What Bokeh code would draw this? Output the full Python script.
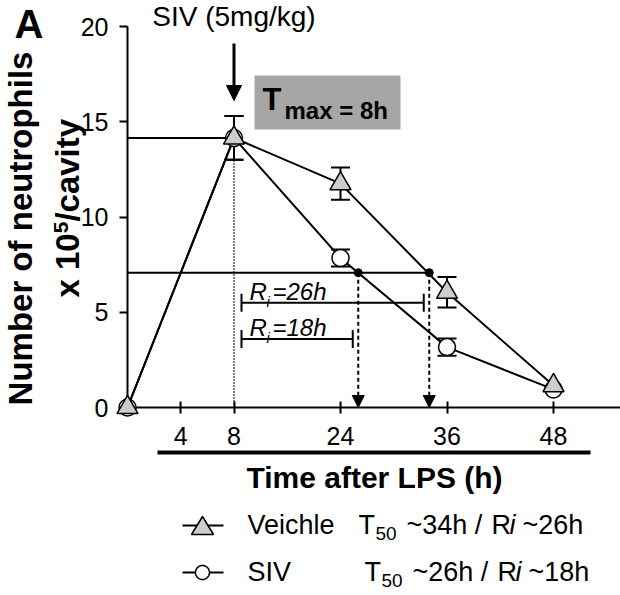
import numpy as np
from bokeh.plotting import figure
from bokeh.models import (Range1d, FixedTicker, LinearAxis, Whisker, TeeHead,
                          Arrow, NormalHead, ColumnDataSource)
from bokeh.core.properties import value
from bokeh.embed import file_html
from bokeh.resources import INLINE

# ---------------- data ----------------
hours = [0, 8, 24, 36, 48]
vehicle_mean = [0.0, 14.15, 11.75, 6.05, 1.15]
vehicle_err = [0.0, 1.15, 0.85, 0.80, 0.0]
siv_mean = [0.0, 14.15, 7.85, 3.17, 0.95]
siv_err = [0.0, 1.15, 0.45, 0.45, 0.0]

x_tick_hours = [4, 8, 24, 36, 48]
y_ticks = [0, 5, 10, 15, 20]
axis_knot_hours = [0, 4, 8, 24, 36, 48]      # broken (non-linear) time axis
axis_knot_pos = [0, 1, 2, 4, 6, 8]

t_max = 8
t50_hours = [26, 34]          # SIV, Vehicle
ri_labels = ["=18h", "=26h"]  # SIV, Vehicle
ri_levels = [3.6, 5.5]

legend_names = ["Veichle", "SIV"]
legend_t50 = ["~34h /", "~26h /"]
legend_ri = ["~26h", "~18h"]

# ---------------- layout ----------------
W, H = 620, 595
LEFT, BOTTOM = 127, 188
FW, FH = W - LEFT, H - BOTTOM
PX_X = 53.25
PX_Y = 19.05
X_END = FW / PX_X
Y_END = FH / PX_Y
FONT = value("Liberation Sans")
MID = 0.3465   # (ascent - descent) / 2 of Liberation Sans, in em


def pos(t):
    return np.interp(t, axis_knot_hours, axis_knot_pos)


def ux(px):   # page x -> data x
    return (px - LEFT) / PX_X


def vy(py):   # page y -> data y
    return (FH - py) / PX_Y


p = figure(width=W, height=H, output_backend="svg", toolbar_location=None,
           x_range=Range1d(0, X_END), y_range=Range1d(0, Y_END),
           x_axis_type=None, y_axis_type=None, title=None,
           min_border_left=LEFT, min_border_right=0, min_border_top=0,
           min_border_bottom=BOTTOM)
p.outline_line_color = None
p.background_fill_color = "white"

yaxis = LinearAxis(ticker=FixedTicker(ticks=y_ticks), bounds=(0, 20),
                   axis_line_width=2, major_tick_line_width=2,
                   major_tick_out=8, major_tick_in=0,
                   minor_tick_out=0, minor_tick_in=0,
                   major_label_text_font="Liberation Sans",
                   major_label_text_font_size="25px",
                   major_label_text_color="black",
                   major_label_standoff=11)
p.add_layout(yaxis, "left")

xt = [float(pos(h)) for h in x_tick_hours]
xaxis = LinearAxis(ticker=FixedTicker(ticks=xt), bounds=(0, X_END),
                   major_label_overrides={k: str(h) for k, h in zip(xt, x_tick_hours)},
                   axis_line_width=2, major_tick_line_width=2,
                   major_tick_out=6, major_tick_in=6,
                   minor_tick_out=0, minor_tick_in=0,
                   major_label_text_font="Liberation Sans",
                   major_label_text_font_size="25px",
                   major_label_text_color="black",
                   major_label_standoff=13)
p.add_layout(xaxis, "below")

vx = pos(hours)
peak = vehicle_mean[hours.index(t_max)]
half = peak / 2.0

# guide lines
p.segment(x0=[0, 0], y0=[peak, half], x1=[pos(t_max), pos(max(t50_hours))],
          y1=[peak, half], line_color="black", line_width=2)
p.segment(x0=[pos(t_max)], y0=[0], x1=[pos(t_max)], y1=[peak],
          line_color="black", line_width=2, line_dash="1 2")

# data lines
p.line(vx, siv_mean, line_color="black", line_width=2)
p.line(vx, vehicle_mean, line_color="black", line_width=2)


def whiskers(mean, err):
    idx = [i for i, e in enumerate(err) if e > 0]
    src = ColumnDataSource(dict(x=[vx[i] for i in idx],
                                lo=[mean[i] - err[i] for i in idx],
                                hi=[mean[i] + err[i] for i in idx]))
    w = Whisker(source=src, base="x", lower="lo", upper="hi", dimension="height",
                line_width=2, line_color="black",
                lower_head=TeeHead(size=19, line_width=2, line_color="black"),
                upper_head=TeeHead(size=19, line_width=2, line_color="black"))
    p.add_layout(w)


whiskers(siv_mean, siv_err)
whiskers(vehicle_mean, vehicle_err)

# T50 dashed arrows and dots
t50x = [float(pos(t)) for t in t50_hours]
arr_src = ColumnDataSource(dict(x0=t50x, y0=[half] * 2, x1=t50x, y1=[0, 0]))
p.add_layout(Arrow(source=arr_src, x_start="x0", y_start="y0", x_end="x1", y_end="y1",
                   line_width=2, line_dash="4 3", line_color="black",
                   end=NormalHead(size=12, fill_color="black", line_color="black",
                                  line_width=1)))
p.scatter(t50x, [half] * 2, marker="circle", size=8, fill_color="black",
          line_color="black", level="overlay")

# Ri bars
ri_start = [float(pos(t_max)) + 7.5 / PX_X] * 2
ri_end = [x - 5.5 / PX_X for x in t50x]
ri_src = ColumnDataSource(dict(y=ri_levels, x0=ri_start, x1=ri_end))
p.add_layout(Whisker(source=ri_src, base="y", lower="x0", upper="x1", dimension="width",
                     line_width=2, line_color="black",
                     lower_head=TeeHead(size=18, line_width=2, line_color="black"),
                     upper_head=TeeHead(size=18, line_width=2, line_color="black")))


def txt(x, y, s, size, style="normal", align="left", rotated=False, xo=0.0, yo=0.0):
    """Text whose alphabetic baseline sits at (x, y) (+ pixel offsets)."""
    if rotated:
        xo = xo - MID * size
        angle = np.pi / 2
    else:
        yo = yo - MID * size
        angle = 0.0
    p.text(x=[x], y=[y], text=[s], text_font=FONT, text_font_size=f"{size}px",
           text_font_style=style, text_align=align, text_baseline="middle",
           angle=angle, x_offset=xo, y_offset=yo, text_color="black", level="overlay")


for y, lab, x0 in zip(ri_levels, ri_labels, ri_start):
    txt(x0, y, "R", 24, "italic", xo=8, yo=-3)
    txt(x0, y, "i", 15, "italic", xo=25, yo=4)
    txt(x0, y, lab, 24, "italic", xo=31, yo=-3)

# markers (overlay so they are not clipped at the axis)
p.scatter(vx, siv_mean, marker="circle", size=17, fill_color="white",
          line_color="black", line_width=1.5, level="overlay")
p.scatter(vx, vehicle_mean, marker="triangle", size=21, fill_color="#cccccc",
          line_color="black", line_width=1.5, level="overlay")

# top arrow and labels
p.add_layout(Arrow(x_start=float(pos(t_max)), y_start=vy(43), x_end=float(pos(t_max)),
                   y_end=vy(100), line_width=3, line_color="black",
                   end=NormalHead(size=15, fill_color="black", line_color="black",
                                  line_width=1)))
txt(float(pos(t_max)), vy(26), "SIV (5mg/kg)", 28, align="center")

p.quad(left=[ux(254)], right=[ux(400)], top=[vy(75)], bottom=[vy(129)],
       fill_color="#a6a6a6", line_color=None, level="overlay")
txt(ux(262), vy(110), "T", 31, "bold")
txt(ux(284), vy(118), "max = 8h", 24, "bold")

txt(ux(14), vy(37), "A", 40, "bold")

# y axis title (two rotated lines, pieces centred along the line)
txt(ux(31), vy(228), "Number of neutrophils", 33, "bold", align="center", rotated=True)
F2, FS = 33, 21
w1, w5, w3 = 1.946 * F2, 0.556 * FS, 3.113 * F2
y2 = vy(297)
txt(ux(78), y2, "x 10", F2, "bold", align="center", rotated=True, yo=-w1 / 2)
txt(ux(78), y2, "5", FS, "bold", align="center", rotated=True, xo=-10, yo=-(w1 + w5 / 2))
txt(ux(78), y2, "/cavity", F2, "bold", align="center", rotated=True,
    yo=-(w1 + w5 + w3 / 2))

# x axis underline and title
p.segment(x0=[ux(157)], y0=[vy(452)], x1=[ux(590)], y1=[vy(452)],
          line_color="black", line_width=4, level="overlay")
txt(ux(374), vy(487), "Time after LPS (h)", 30, "bold", align="center")

# legend (symbols drawn as polygons so they are not culled outside the frame)
rows = [525, 572]
p.segment(x0=[ux(182)] * 2, y0=[vy(r) for r in rows], x1=[ux(223)] * 2,
          y1=[vy(r) for r in rows], line_color="black", line_width=2, level="overlay")
cx = 202
tri_px = [(cx - 11, rows[0] + 9), (cx + 11, rows[0] + 9), (cx, rows[0] - 9)]
p.patch([ux(a) for a, b in tri_px], [vy(b) for a, b in tri_px], fill_color="#cccccc",
        line_color="black", line_width=1.5, level="overlay")
ang = np.linspace(0, 2 * np.pi, 48)
p.patch(ux(cx + 7 * np.cos(ang)), vy(rows[1] + 7 * np.sin(ang)), fill_color="white",
        line_color="black", line_width=1.5, level="overlay")

starts = [358, 364]
for r, name, t50s, ris, st in zip(rows, legend_names, legend_t50, legend_ri, starts):
    base = r + 9
    txt(ux(247), vy(base), name, 27)
    txt(ux(st), vy(base), "T", 27)
    txt(ux(st + 17), vy(base + 6), "50", 19)
    txt(ux(st + 48), vy(base), t50s, 27)
    txt(ux(st + 133), vy(base), "R", 27)
    txt(ux(st + 151), vy(base), "i", 27, "italic")
    txt(ux(st + 164), vy(base), ris, 27)

open("out.html", "w").write(file_html(p, INLINE))
